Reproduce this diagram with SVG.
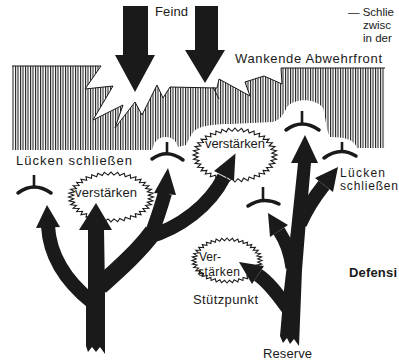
<svg xmlns="http://www.w3.org/2000/svg" xmlns:xlink="http://www.w3.org/1999/xlink" width="399" height="362" viewBox="0 0 399 362">
<style>
  .t { font-family: "Liberation Sans", Arial, Helvetica, sans-serif; font-size: 13px; fill: #1a1a1a; }
  .s12 { font-size: 12px; }
  .s115 { font-size: 11.5px; }
  .b { font-weight: bold; }
  .blk { fill: #1a1a1a; }
  .shaft { fill: none; stroke: #1a1a1a; stroke-linecap: butt; }
  .tee { fill: none; stroke: #1a1a1a; stroke-width: 3.5; stroke-linecap: round; }
  .stem { stroke: #1a1a1a; stroke-width: 2.6; }
  .zz { fill: #fff; stroke: #1a1a1a; stroke-width: 1.1; vector-effect: non-scaling-stroke; stroke-linejoin: miter; }
</style>
<defs>
  <pattern id="hatch" width="2.5" height="10" patternUnits="userSpaceOnUse">
    <rect width="1.05" height="10" fill="#1a1a1a"/>
  </pattern>
  <polygon id="zig" class="zz" points="100,0 87.73,6.9 98.77,15.64 85.57,20.54 95.11,30.9 81.3,33.68 89.1,45.4 75.03,45.98 80.9,58.78 66.92,57.15 70.71,70.71 57.15,66.92 58.78,80.9 45.98,75.03 45.4,89.1 33.68,81.3 30.9,95.11 20.54,85.57 15.64,98.77 6.9,87.73 0,100 -6.9,87.73 -15.64,98.77 -20.54,85.57 -30.9,95.11 -33.68,81.3 -45.4,89.1 -45.98,75.03 -58.78,80.9 -57.15,66.92 -70.71,70.71 -66.92,57.15 -80.9,58.78 -75.03,45.98 -89.1,45.4 -81.3,33.68 -95.11,30.9 -85.57,20.54 -98.77,15.64 -87.73,6.9 -100,0 -87.73,-6.9 -98.77,-15.64 -85.57,-20.54 -95.11,-30.9 -81.3,-33.68 -89.1,-45.4 -75.03,-45.98 -80.9,-58.78 -66.92,-57.15 -70.71,-70.71 -57.15,-66.92 -58.78,-80.9 -45.98,-75.03 -45.4,-89.1 -33.68,-81.3 -30.9,-95.11 -20.54,-85.57 -15.64,-98.77 -6.9,-87.73 0,-100 6.9,-87.73 15.64,-98.77 20.54,-85.57 30.9,-95.11 33.68,-81.3 45.4,-89.1 45.98,-75.03 58.78,-80.9 57.15,-66.92 70.71,-70.71 66.92,-57.15 80.9,-58.78 75.03,-45.98 89.1,-45.4 81.3,-33.68 95.11,-30.9 85.57,-20.54 98.77,-15.64 87.73,-6.9"/>
</defs>
<rect width="399" height="362" fill="#fff"/>

<!-- Wavering defensive front (hatched) -->
<g id="front">
  <path fill="url(#hatch)" d="M 12 66 L 101 66 L 85 89 L 113 86 L 93 120 L 123 105 L 115 128 L 135 102 L 142 115 L 157 85 L 163 98 L 170 87 L 217 88 L 219 79 L 250 96 L 245 82 L 264 76 L 282 84 L 281 68 L 385 68 L 385 148 L 357 148 C 355 140 345 137 330 137 C 326 130 326 118 323 108 C 315 98 295 98 287 107 C 284 114 280 120 273 122 L 230 124 C 212 124 200 126 194 131 C 190 136 188 141 186 145 L 178 147 C 176 140 172 137 165 137 C 158 137 154 142 152 150 L 12 150 Z"/>
  <path fill="none" stroke="#1a1a1a" stroke-width="1" d="M 12 66 L 101 66 L 85 89 L 113 86 L 93 120 L 123 105 L 115 128 L 135 102 L 142 115 L 157 85 L 163 98 L 170 87 L 217 88 L 219 79 L 250 96 L 245 82 L 264 76 L 282 84 L 281 68 L 385 68"/>
  <path fill="none" stroke="#1a1a1a" stroke-width="1" d="M 213 87 L 219 99"/>
  <text class="t" x="235" y="63" textLength="147">Wankende Abwehrfront</text>
</g>

<!-- Enemy -->
<g id="feind">
  <polygon class="blk" points="123,6 148,6 148,55 155,55 135,92 115,55 123,55"/>
  <polygon class="blk" points="195,6 218,6 218,50 225,50 205,83 185,50 195,50"/>
  <text class="t" x="155" y="16" textLength="33">Feind</text>
</g>

<!-- Cut-off caption at top right -->
<g id="caption">
  <text class="t s115" x="348" y="15.5">— Schlie</text>
  <text class="t s115" x="363" y="28.5">zwisc</text>
  <text class="t s115" x="363" y="41.5">in der</text>
</g>

<g id="label-luecken-links">
  <text class="t" x="16" y="165" textLength="116">Lücken schließen</text>
</g>
<g id="label-luecken-rechts">
  <text class="t s12" x="340" y="176.5" textLength="45">Lücken</text>
  <text class="t s12" x="340" y="190" textLength="58">schließen</text>
</g>
<g id="label-stuetzpunkt">
  <text class="t" x="193" y="304" textLength="65">Stützpunkt</text>
</g>
<g id="label-reserve">
  <text class="t" x="263" y="358" textLength="49">Reserve</text>
</g>
<g id="label-defensi">
  <text class="t b" x="349" y="277" textLength="48">Defensi</text>
</g>

<!-- Reinforcement bubbles -->
<g id="bubble-verstaerken-1">
  <use xlink:href="#zig" href="#zig" transform="translate(111,197) scale(0.425,0.25)"/>
</g>
<g id="bubble-verstaerken-2">
  <use xlink:href="#zig" href="#zig" transform="translate(235,155) scale(0.42,0.27)"/>
</g>
<g id="bubble-verstaerken-3">
  <use xlink:href="#zig" href="#zig" transform="translate(227,260.5) scale(0.35,0.225)"/>
</g>

<!-- Gap-closing T symbols -->
<g id="tee-1"><line class="stem" x1="34" y1="175" x2="34" y2="187"/><path class="tee" d="M 18 193 Q 34 181 51 193"/></g>
<g id="tee-2"><line class="stem" x1="167" y1="142" x2="167" y2="154"/><path class="tee" d="M 152 159 Q 167 148 183 160"/></g>
<g id="tee-3"><line class="stem" x1="302" y1="111" x2="302" y2="124"/><path class="tee" d="M 286 130 Q 302 118 319 130"/></g>
<g id="tee-4"><line class="stem" x1="342" y1="142" x2="342" y2="153"/><path class="tee" d="M 324 158 Q 340 146 356 156"/></g>
<g id="tee-5"><line class="stem" x1="263" y1="187" x2="263" y2="200"/><path class="tee" d="M 248 206 Q 263 196 279 204"/></g>

<!-- Connectors: counter-attack arrows -->
<g id="connectors">
  <!-- left tree -->
  <polygon class="blk" points="88,229 88,290 86,300 86,346 88,352 92,347 96,352 100,347 105,354 105,290 104,229"/>
  <polygon class="blk" points="79,230 96,203 112,230"/>
  <path class="shaft" stroke-width="14" d="M 92 302 C 72 286 50 262 48 226"/>
  <polygon class="blk" points="36,228 47,205 60,227"/>
  <path class="shaft" stroke-width="18" d="M 100 286 C 120 268 140 250 153 232"/>
  <path class="shaft" stroke-width="14" d="M 150 238 C 156 222 161 207 165 193"/>
  <polygon class="blk" points="154,193 168,168 176,195"/>
  <path class="shaft" stroke-width="14" d="M 148 237 C 180 228 210 205 224 177"/>
  <polygon class="blk" points="214,171 235.5,153.5 234,181"/>

  <!-- right tree (Reserve) -->
  <polygon class="blk" points="280,336 283,343 287,338 290,344 294,339 299,346 302,270 306,220 311,163 298,163 291,230 284,290"/>
  <polygon class="blk" points="291,163 305,135 318,163"/>
  <path class="shaft" stroke-width="14" d="M 300 224 C 308 206 316 195 324 185"/>
  <polygon class="blk" points="315,178 338,167 333,192"/>
  <path class="shaft" stroke-width="13" d="M 292 268 C 290 252 285 240 279 231"/>
  <polygon class="blk" points="270,237 268,213 288,225"/>
  <path class="shaft" stroke-width="14" d="M 289 310 C 280 298 270 283 258 275"/>
  <polygon class="blk" points="252,284 239,262 264,266"/>
</g>

<!-- Bubble texts -->
<g id="bubble-texts">
  <text class="t" x="75" y="197" textLength="62">verstärken</text>
  <text class="t" x="205" y="148" textLength="60">verstärken</text>
  <text class="t s12" x="199" y="261">Ver-</text>
  <text class="t s12" x="198" y="275.5" textLength="42">stärken</text>
</g>
</svg>
